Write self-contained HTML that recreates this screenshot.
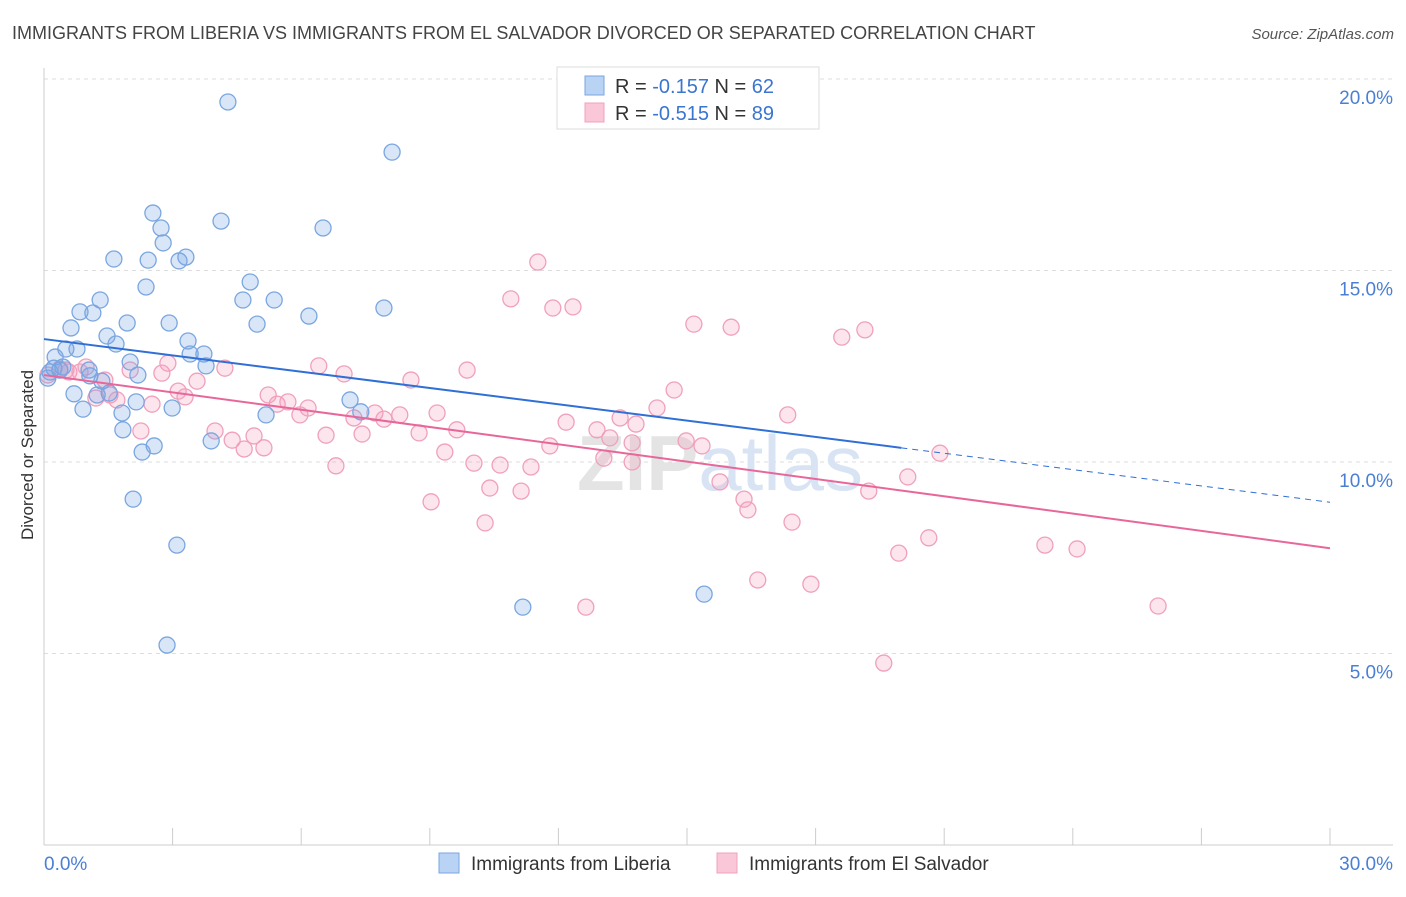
<!DOCTYPE html>
<html><head><meta charset="utf-8"><style>
body{margin:0;background:#fff;font-family:"Liberation Sans",sans-serif;}
svg text{font-family:"Liberation Sans",sans-serif;}
</style></head><body>
<svg id="chart" width="1406" height="892" viewBox="0 0 1406 892" xmlns="http://www.w3.org/2000/svg">
<text x="12" y="39" font-size="18" fill="#444">IMMIGRANTS FROM LIBERIA VS IMMIGRANTS FROM EL SALVADOR DIVORCED OR SEPARATED CORRELATION CHART</text>
<text x="1394" y="39" font-size="15" fill="#555" text-anchor="end" font-style="italic">Source: ZipAtlas.com</text>
<g id="grid"></g>
<text x="720" y="490" font-size="78" fill="#e4e4e4" text-anchor="middle" font-weight="bold">ZIP<tspan fill="#d8e4f4" font-weight="normal">atlas</tspan></text>
<g id="pts"></g>
<g id="lines"></g>
<text transform="translate(33,455) rotate(-90)" font-size="17" fill="#333" text-anchor="middle">Divorced or Separated</text>
<g>
<rect x="557" y="67" width="262" height="62" fill="#fff" stroke="#ddd"/>
<rect x="585" y="76" width="19" height="19" fill="#b9d3f5" stroke="#7aa6e0"/>
<rect x="585" y="103" width="19" height="19" fill="#f9c7d7" stroke="#f0a0bc"/>
<text x="615" y="93" font-size="20" fill="#333">R = <tspan fill="#3a75d0">-0.157</tspan>   N = <tspan fill="#3a75d0">62</tspan></text>
<text x="615" y="120" font-size="20" fill="#333">R = <tspan fill="#3a75d0">-0.515</tspan>   N = <tspan fill="#3a75d0">89</tspan></text>
</g>
<g>
<rect x="439" y="853" width="20" height="20" fill="#b9d3f5" stroke="#7aa6e0"/>
<text x="471" y="870" font-size="19" fill="#333">Immigrants from Liberia</text>
<rect x="717" y="853" width="20" height="20" fill="#f9c7d7" stroke="#f0a0bc"/>
<text x="749" y="870" font-size="19" fill="#333">Immigrants from El Salvador</text>
</g>
</svg>
<script>
const liberiaX=[4.29,8.12,2.54,4.13,2.73,6.51,2.78,1.63,2.43,3.31,3.15,4.81,2.38,1.31,4.64,5.37,0.84,1.14,6.18,7.93,1.94,2.92,4.97,0.63,1.47,3.36,1.68,0.51,0.77,3.41,3.73,0.26,2.01,3.78,0.44,0.23,1.05,1.07,2.19,1.35,0.70,1.52,1.24,2.15,0.91,2.99,7.14,5.18,7.39,1.82,1.84,3.90,2.57,2.29,2.08,3.10,11.17,15.40,2.87,0.09,0.14,0.37];
const liberiaY=[19.40,18.09,16.50,16.29,16.11,16.11,15.72,15.30,15.27,15.35,15.25,14.70,14.57,14.23,14.23,14.23,13.92,13.89,13.81,14.02,13.63,13.63,13.60,13.50,13.29,13.16,13.08,12.95,12.95,12.82,12.82,12.74,12.61,12.51,12.48,12.45,12.40,12.25,12.27,12.11,11.78,11.80,11.75,11.57,11.38,11.41,11.62,11.23,11.31,11.28,10.84,10.55,10.42,10.26,9.03,7.83,6.21,6.55,5.22,12.19,12.35,12.40];
const salvadorX=[11.52,10.89,11.87,12.34,15.16,16.03,19.15,18.61,6.41,7.00,8.56,9.87,2.75,2.89,4.22,0.98,0.84,0.58,0.37,2.01,1.42,3.57,3.13,3.29,5.23,5.69,6.16,5.97,1.21,1.70,2.52,5.44,7.72,8.30,7.23,7.93,9.17,14.70,14.30,12.18,13.44,13.81,12.90,17.35,9.63,3.99,2.26,4.39,4.90,4.67,5.13,6.58,7.42,8.75,11.80,13.20,13.72,14.98,15.35,9.35,10.03,10.64,11.36,13.06,13.72,20.90,6.81,10.40,11.13,9.03,10.29,15.77,16.33,16.42,17.45,19.24,20.15,19.94,20.64,23.35,24.10,16.65,17.89,12.64,25.99,19.59,0.09,0.51,1.54];
const salvadorY=[15.22,14.26,14.02,14.05,13.60,13.52,13.45,13.26,12.51,12.30,12.14,12.40,12.32,12.58,12.45,12.48,12.35,12.35,12.43,12.40,12.14,12.11,11.85,11.70,11.75,11.57,11.41,11.23,11.67,11.62,11.51,11.51,11.28,11.23,11.15,11.12,11.28,11.88,11.41,11.04,11.15,10.99,10.84,11.23,10.84,10.81,10.81,10.57,10.68,10.34,10.37,10.70,10.73,10.76,10.42,10.63,10.50,10.55,10.42,10.26,9.97,9.92,9.87,10.10,10.00,10.23,9.90,9.32,9.24,8.96,8.41,9.48,9.03,8.75,8.43,9.24,9.61,7.62,8.02,7.83,7.73,6.92,6.81,6.21,6.24,4.75,12.27,12.40,11.75];
const liberiaTrend=[13.21,-0.142];
const salvadorTrend=[12.27,-0.1507];
const yTicks=[5,10,15,20];
const yTickLabels=["5.0%","10.0%","15.0%","20.0%"];
const xTicks=[0,3,6,9,12,15,18,21,24,27,30];

const NS="http://www.w3.org/2000/svg";
const sx=v=>44+v*(1286/30);
const sy=v=>845-v*(191.5/5);
function mk(tag,attrs,parent){const e=document.createElementNS(NS,tag);for(const k in attrs)e.setAttribute(k,attrs[k]);parent.appendChild(e);return e;}
const grid=document.getElementById('grid');
yTicks.forEach((t,i)=>{
  const l=mk('line',{x1:44,x2:1393,y1:sy(t),y2:sy(t),stroke:'#ddd','stroke-dasharray':'4,4'},grid);
  
  
  const tx=mk('text',{x:1393,y:sy(t)+25,'font-size':19,fill:'#4a7fd4','text-anchor':'end'},grid);
  tx.textContent=yTickLabels[i];
  
  
});
const ax=mk('line',{x1:44,x2:44,y1:68,y2:845,stroke:'#ccc'},grid);


const bx=mk('line',{x1:44,x2:1393,y1:845,y2:845,stroke:'#ccc'},grid);


xTicks.forEach(t=>{
  const l=mk('line',{x1:sx(t),x2:sx(t),y1:828,y2:845,stroke:'#ccc'},grid);
  
  
});
const xl0=mk('text',{x:44,y:870,'font-size':19,fill:'#4a7fd4'},grid);xl0.textContent=xTicks[0].toFixed(1)+'%';


const xl1=mk('text',{x:1393,y:870,'font-size':19,fill:'#4a7fd4','text-anchor':'end'},grid);xl1.textContent=xTicks[xTicks.length-1].toFixed(1)+'%';



const pts=document.getElementById('pts');
salvadorX.forEach((x,i)=>{
  const c=mk('circle',{cx:sx(x),cy:sy(salvadorY[i]),r:8,fill:'rgba(244,160,190,0.28)',stroke:'#f0a0bc','stroke-width':1.3},pts);
  
  
});
liberiaX.forEach((x,i)=>{
  const c=mk('circle',{cx:sx(x),cy:sy(liberiaY[i]),r:8,fill:'rgba(120,165,230,0.28)',stroke:'#7aa6e0','stroke-width':1.3},pts);
  
  
});
const lines=document.getElementById('lines');
const bl=v=>liberiaTrend[0]+liberiaTrend[1]*v;
const pl=v=>salvadorTrend[0]+salvadorTrend[1]*v;
const l1=mk('line',{x1:sx(0),y1:sy(bl(0)),x2:sx(20),y2:sy(bl(20)),stroke:'#2f6fd6','stroke-width':2},lines);


const l2=mk('line',{x1:sx(20),y1:sy(bl(20)),x2:sx(30),y2:sy(bl(30)),stroke:'#2f6fd6','stroke-width':1,'stroke-dasharray':'6,5'},lines);


const l3=mk('line',{x1:sx(0),y1:sy(pl(0)),x2:sx(30),y2:sy(pl(30)),stroke:'#e8679a','stroke-width':2},lines);


</script>
</body></html>
